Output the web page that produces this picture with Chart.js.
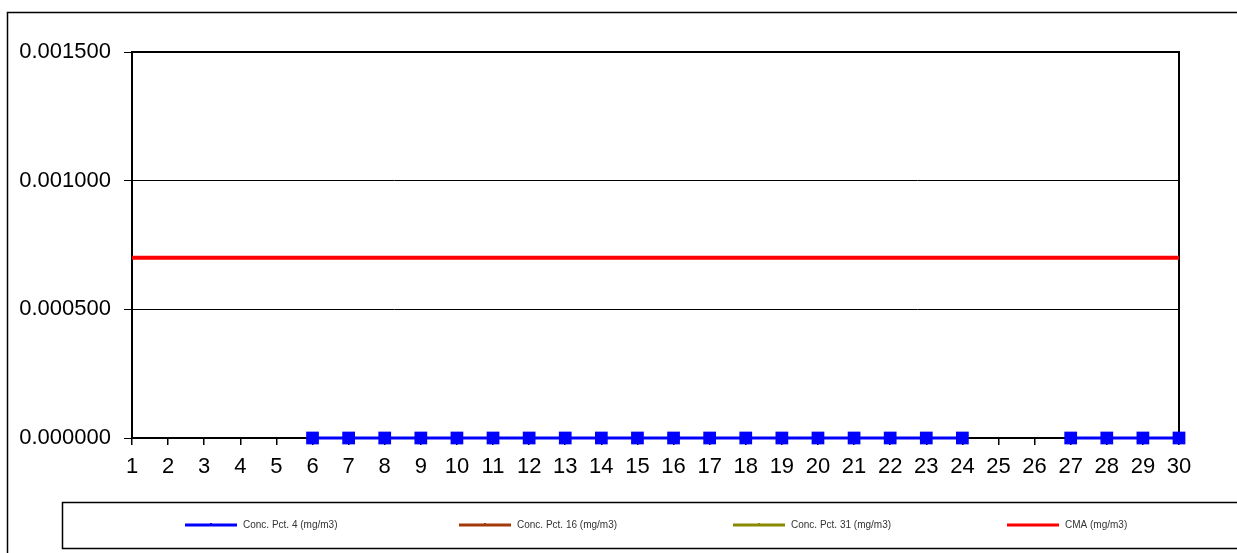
<!DOCTYPE html>
<html>
<head>
<meta charset="utf-8">
<title>Concentratii</title>
<script src="https://cdn.jsdelivr.net/npm/chart.js@4.4.1/dist/chart.umd.min.js"></script>
<style>
  html, body { margin: 0; padding: 0; background: #fff; }
  #wrap { width: 1237px; height: 553px; position: relative; }
</style>
</head>
<body>
<div id="wrap"><canvas id="chart"></canvas></div>
<script>
// Days of the month
const days = ["1","2","3","4","5","6","7","8","9","10","11","12","13","14","15",
  "16","17","18","19","20","21","22","23","24","25","26","27","28","29","30"];

// Measured concentrations (mg/m3); null = no measurement
const pct4 = [null, null, null, null, null, 0, 0, 0, 0, 0, 0, 0, 0, 0, 0,
  0, 0, 0, 0, 0, 0, 0, 0, 0, null, null, 0, 0, 0, 0];
const pct16 = days.map(() => null);
const pct31 = days.map(() => null);

// Maximum admissible concentration
const cma = [0.0007, 0.0007, 0.0007, 0.0007, 0.0007, 0.0007, 0.0007, 0.0007, 0.0007, 0.0007,
  0.0007, 0.0007, 0.0007, 0.0007, 0.0007, 0.0007, 0.0007, 0.0007, 0.0007, 0.0007,
  0.0007, 0.0007, 0.0007, 0.0007, 0.0007, 0.0007, 0.0007, 0.0007, 0.0007, 0.0007];

const yTicks = [0, 0.0005, 0.001, 0.0015];

const FONT = "'Liberation Sans', Arial, sans-serif";

// Frame around the plot area, outer border and the boxed legend
const framePlugin = {
  id: 'frame',
  beforeDraw(chart) {
    const ctx = chart.ctx;
    ctx.save();
    ctx.strokeStyle = '#000';
    ctx.lineWidth = 1.5;
    ctx.strokeRect(7.5, 12.5, 1240, 545);
    ctx.restore();
  },
  beforeDatasetsDraw(chart) {
    const { ctx, chartArea: a } = chart;
    ctx.save();
    ctx.strokeStyle = '#000';
    ctx.lineWidth = 2;
    ctx.strokeRect(a.left, a.top, a.right - a.left, a.bottom - a.top);
    ctx.restore();
  },
  afterDraw(chart) {
    const ctx = chart.ctx;
    ctx.save();
    ctx.strokeStyle = '#000';
    ctx.lineWidth = 1.5;
    ctx.strokeRect(62.5, 502.5, 1190, 46);
    ctx.font = '10px ' + FONT;
    ctx.textBaseline = 'middle';
    chart.data.datasets.forEach((ds, i) => {
      const x = 185 + i * 274;
      const y = 525;
      ctx.strokeStyle = ds.borderColor;
      ctx.lineWidth = 3;
      ctx.beginPath();
      ctx.moveTo(x, y);
      ctx.lineTo(x + 52, y);
      ctx.stroke();
      if (i < 3) {
        ctx.fillStyle = ds.borderColor;
        ctx.fillRect(x + 25, y - 2, 2, 2);
      }
      ctx.fillStyle = '#333';
      ctx.fillText(ds.label, x + 58, y);
    });
    ctx.restore();
  }
};

new Chart(document.getElementById('chart'), {
  type: 'line',
  data: {
    labels: days,
    datasets: [
      {
        label: 'Conc. Pct. 4 (mg/m3)',
        data: pct4,
        borderColor: '#0000ff',
        backgroundColor: '#0000ff',
        borderWidth: 3,
        pointStyle: 'rect',
        pointRadius: 9,
        pointBorderWidth: 0,
        spanGaps: false,
        clip: false
      },
      {
        label: 'Conc. Pct. 16 (mg/m3)',
        data: pct16,
        borderColor: '#a33a0a',
        backgroundColor: '#a33a0a',
        borderWidth: 3,
        pointRadius: 0
      },
      {
        label: 'Conc. Pct. 31 (mg/m3)',
        data: pct31,
        borderColor: '#8a8a00',
        backgroundColor: '#8a8a00',
        borderWidth: 3,
        pointRadius: 0
      },
      {
        label: 'CMA (mg/m3)',
        data: cma,
        borderColor: '#ff0000',
        backgroundColor: '#ff0000',
        borderWidth: 4,
        pointRadius: 0
      }
    ]
  },
  options: {
    responsive: true,
    maintainAspectRatio: false,
    animation: false,
    layout: { padding: { left: 0, top: 52, right: 58, bottom: 0 } },
    plugins: {
      legend: { display: false },
      tooltip: { enabled: false }
    },
    scales: {
      x: {
        offset: false,
        afterFit(scale) { scale.height = 115; },
        border: { display: true, color: '#000', width: 2 },
        grid: { drawOnChartArea: false, drawTicks: true, tickLength: 7, color: '#000', lineWidth: 1.5 },
        ticks: {
          color: '#000',
          font: { family: FONT, size: 22 },
          padding: 9,
          maxRotation: 0,
          autoSkip: false
        }
      },
      y: {
        min: 0,
        max: 0.0015,
        afterFit(scale) { scale.width = 132; },
        afterBuildTicks(scale) { scale.ticks = yTicks.map(v => ({ value: v })); },
        border: { display: true, color: '#000', width: 2 },
        grid: { color: '#000', lineWidth: 1, tickLength: 8 },
        ticks: {
          color: '#000',
          font: { family: FONT, size: 22 },
          padding: 13,
          callback: v => v.toFixed(6)
        }
      }
    }
  },
  plugins: [framePlugin]
});
</script>
</body>
</html>
